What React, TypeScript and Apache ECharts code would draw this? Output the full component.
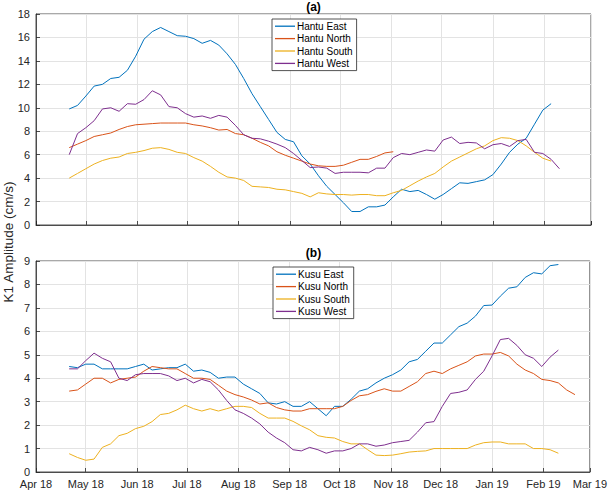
import React, { useEffect, useRef } from "react";
import * as echarts from "echarts";

// Sample dates (every 5 days)
const dates = [
  "2018-04-21", "2018-04-26", "2018-05-01", "2018-05-06", "2018-05-11", "2018-05-16", "2018-05-21", "2018-05-26",
  "2018-05-31", "2018-06-05", "2018-06-10", "2018-06-15", "2018-06-20", "2018-06-25", "2018-06-30", "2018-07-05",
  "2018-07-10", "2018-07-15", "2018-07-20", "2018-07-25", "2018-07-30", "2018-08-04", "2018-08-09", "2018-08-14",
  "2018-08-19", "2018-08-24", "2018-08-29", "2018-09-03", "2018-09-08", "2018-09-13", "2018-09-18", "2018-09-23",
  "2018-09-28", "2018-10-03", "2018-10-08", "2018-10-13", "2018-10-18", "2018-10-23", "2018-10-28", "2018-11-02",
  "2018-11-07", "2018-11-12", "2018-11-17", "2018-11-22", "2018-11-27", "2018-12-02", "2018-12-07", "2018-12-12",
  "2018-12-17", "2018-12-22", "2018-12-27", "2019-01-01", "2019-01-06", "2019-01-11", "2019-01-16", "2019-01-21",
  "2019-01-26", "2019-01-31", "2019-02-05", "2019-02-10", "2019-02-15", "2019-02-20",
];

const hantuEast = [
  9.9, 10.2, 11.0, 11.85, 12.0, 12.5, 12.6, 13.2, 14.4, 15.85, 16.5, 16.85, 16.5, 16.15, 16.1, 15.9,
  15.5, 15.75, 15.35, 14.6, 13.7, 12.5, 11.2, 10.1, 9.0, 7.9, 7.3, 7.1, 5.9, 5.2, 4.2, 3.3,
  2.6, 1.9, 1.15, 1.15, 1.55, 1.55, 1.7, 2.4, 3.05, 2.85, 2.95, 2.6, 2.2, 2.6, 3.1, 3.6,
  3.55, 3.7, 3.85, 4.3, 5.2, 6.2, 6.9, 7.4, 8.6, 9.8, 10.35,
];
const hantuNorth = [
  6.6, 6.9, 7.2, 7.55, 7.7, 7.85, 8.15, 8.4, 8.55, 8.6, 8.65, 8.7, 8.7, 8.7, 8.7, 8.55,
  8.45, 8.3, 8.1, 8.15, 7.8, 7.7, 7.4, 7.05, 6.75, 6.25, 5.95, 5.7, 5.45, 5.2, 5.05, 5.0,
  5.0, 5.1, 5.35, 5.6, 5.6, 5.85, 6.15, 6.25,
];
const hantuSouth = [
  4.0, 4.4, 4.8, 5.2, 5.5, 5.7, 5.8, 6.1, 6.2, 6.35, 6.55, 6.6, 6.45, 6.2, 6.1, 5.75,
  5.45, 5.0, 4.5, 4.1, 4.0, 3.8, 3.3, 3.25, 3.2, 3.05, 3.0, 2.85, 2.7, 2.4, 2.75, 2.65,
  2.6, 2.6, 2.55, 2.6, 2.6, 2.5, 2.5, 2.75, 2.95, 3.35, 3.75, 4.1, 4.4, 4.95, 5.45, 5.8,
  6.15, 6.5, 6.75, 7.2, 7.45, 7.4, 7.2, 6.75, 6.2, 5.7, 5.45,
];
const hantuWest = [
  6.0, 7.8, 8.3, 8.9, 9.9, 10.0, 9.7, 10.35, 10.3, 10.7, 11.45, 11.1, 10.1, 10.0, 9.5, 9.2,
  9.3, 9.1, 9.35, 9.2, 8.5, 7.7, 7.4, 7.35, 7.15, 6.9, 6.6, 6.1, 5.5, 4.9, 4.95, 4.85,
  4.4, 4.5, 4.5, 4.5, 4.45, 4.85, 4.85, 5.75, 6.1, 6.0, 6.2, 6.4, 6.3, 7.25, 7.5, 6.95,
  7.05, 7.0, 6.5, 6.85, 6.95, 6.7, 7.2, 7.3, 6.2, 6.1, 5.6, 4.8,
];

const kusuEast = [
  4.5, 4.45, 4.6, 4.6, 4.4, 4.4, 4.4, 4.4, 4.5, 4.6, 4.35, 4.4, 4.45, 4.45, 4.6, 4.3,
  4.35, 4.25, 4.0, 4.05, 4.05, 3.75, 3.55, 3.35, 2.95, 2.9, 3.0, 2.8, 2.8, 3.0, 2.7, 2.4,
  2.8, 2.8, 3.1, 3.45, 3.55, 3.8, 4.0, 4.15, 4.35, 4.7, 4.8, 5.15, 5.5, 5.5, 5.85, 6.2,
  6.35, 6.65, 7.1, 7.12, 7.5, 7.84, 7.9, 8.3, 8.5, 8.45, 8.8, 8.85,
];
const kusuNorth = [
  3.45, 3.5, 3.75, 4.0, 4.0, 3.8, 3.95, 4.0, 4.05, 4.3, 4.5, 4.45, 4.4, 4.4, 4.2, 4.0,
  4.0, 3.95, 3.7, 3.45, 3.3, 3.2, 3.07, 2.9, 2.95, 2.75, 2.65, 2.6, 2.6, 2.7, 2.7, 2.7,
  2.7, 2.8, 3.05, 3.25, 3.3, 3.44, 3.55, 3.45, 3.45, 3.65, 3.85, 4.2, 4.3, 4.2, 4.4, 4.55,
  4.7, 4.95, 5.03, 5.03, 5.1, 4.95, 4.6, 4.35, 4.2, 3.95, 3.9, 3.8, 3.5, 3.3,
];
const kusuSouth = [
  0.78, 0.62, 0.5, 0.55, 1.05, 1.2, 1.55, 1.65, 1.85, 1.95, 2.15, 2.45, 2.5, 2.65, 2.85, 2.7,
  2.6, 2.7, 2.6, 2.7, 2.8, 2.8, 2.75, 2.5, 2.3, 2.3, 2.3, 2.16, 1.97, 1.8, 1.55, 1.48,
  1.45, 1.3, 1.2, 1.2, 0.95, 0.72, 0.7, 0.72, 0.78, 0.85, 0.88, 0.9, 1.0, 1.0, 1.0, 1.0,
  1.0, 1.15, 1.25, 1.28, 1.28, 1.2, 1.2, 1.2, 1.0, 1.0, 0.95, 0.8,
];
const kusuWest = [
  4.4, 4.4, 4.75, 5.07, 4.85, 4.7, 4.0, 3.9, 4.15, 4.2, 4.2, 4.2, 4.1, 3.9, 4.0, 3.8,
  3.95, 3.85, 3.5, 3.05, 2.65, 2.5, 2.3, 2.05, 1.7, 1.45, 1.25, 0.95, 0.9, 1.05, 0.95, 0.8,
  0.9, 0.9, 1.0, 1.2, 1.2, 1.1, 1.15, 1.25, 1.3, 1.35, 1.7, 2.1, 2.15, 2.8, 3.35, 3.4,
  3.5, 3.95, 4.3, 4.95, 5.65, 5.7, 5.4, 5.0, 4.85, 4.5, 4.9, 5.2,
];

const monthNames = ["Jan", "Feb", "Mar", "Apr", "May", "Jun", "Jul", "Aug", "Sep", "Oct", "Nov", "Dec"];
const topNames = ["Hantu East", "Hantu North", "Hantu South", "Hantu West"];
const bottomNames = ["Kusu East", "Kusu North", "Kusu South", "Kusu West"];
const colors = ["#0072BD", "#D95319", "#EDB120", "#7E2F8E"];

const FONT = "'Liberation Sans', Arial, Helvetica, sans-serif";

function toTs(s: string) {
  const [y, m, d] = s.split("-").map(Number);
  return Date.UTC(y, m - 1, d);
}

function pairs(vals: number[]) {
  return vals.map((v, i) => [toTs(dates[i]), v]);
}

export default function App() {
  const ref = useRef<HTMLDivElement>(null);
  useEffect(() => {
    if (!ref.current) return;
    const chart = echarts.init(ref.current, null, { renderer: "svg" });
    const xMin = Date.UTC(2018, 3, 1);
    const xMax = Date.UTC(2019, 2, 1);
    const axisLineStyle = { color: "#262626", width: 0.8 };
    const gridLine = { show: true, lineStyle: { color: "#e3e3e3", width: 1 } };
    const makeX = (idx: number, showLabel: boolean) => ({
      type: "time",
      gridIndex: idx,
      min: xMin,
      max: xMax,
      splitNumber: 11,
      minInterval: 28 * 86400000,
      maxInterval: 31 * 86400000,
      axisLine: { show: true, lineStyle: axisLineStyle },
      axisTick: { show: true, inside: true, length: 4, lineStyle: axisLineStyle },
      splitLine: gridLine,
      minorTick: { show: false },
      axisLabel: {
        show: showLabel,
        fontSize: 11,
        color: "#262626",
        fontFamily: FONT,
        margin: 6,
        showMinLabel: true,
        showMaxLabel: true,
        hideOverlap: false,
        formatter: (v: number) => {
          const d = new Date(v);
          return monthNames[d.getUTCMonth()] + " " + String(d.getUTCFullYear() % 100).padStart(2, "0");
        },
      },
    });
    const makeY = (idx: number, max: number, interval: number) => ({
      type: "value",
      gridIndex: idx,
      min: 0,
      max,
      interval,
      axisLine: { show: true, lineStyle: axisLineStyle },
      axisTick: { show: true, inside: true, length: 4, lineStyle: axisLineStyle },
      splitLine: gridLine,
      axisLabel: { fontSize: 11, color: "#262626", fontFamily: FONT, margin: 6 },
    });
    const mkSeries = (name: string, vals: number[], ci: number, gi: number) => ({
      name,
      type: "line",
      xAxisIndex: gi,
      yAxisIndex: gi,
      data: pairs(vals),
      symbol: "none",
      showSymbol: false,
      lineStyle: { width: 1, color: colors[ci] },
      itemStyle: { color: colors[ci] },
      z: 3,
    });
    const legendCommon = {
      orient: "vertical",
      icon: "rect",
      itemWidth: 20,
      itemHeight: 1.3,
      itemGap: 0,
      padding: [1, 4, 1, 3],
      borderColor: "#262626",
      borderWidth: 0.8,
      backgroundColor: "#ffffff",
      borderRadius: 0,
      textStyle: { fontSize: 10, lineHeight: 12.4, color: "#000", fontFamily: FONT, padding: [0, 0, 0, -3] },
      selectedMode: false,
    };
    chart.setOption({
      animation: false,
      useUTC: true,
      textStyle: { fontFamily: FONT },
      grid: [
        { left: 36, right: 19, top: 14, height: 211, show: true, borderColor: "#262626", borderWidth: 0.8, backgroundColor: "transparent" },
        { left: 36, right: 19, top: 261, height: 211, show: true, borderColor: "#262626", borderWidth: 0.8, backgroundColor: "transparent" },
      ],
      xAxis: [makeX(0, false), makeX(1, true)],
      yAxis: [makeY(0, 18, 2), makeY(1, 9, 1)],
      legend: [
        { ...legendCommon, data: topNames, left: 272, top: 19 },
        { ...legendCommon, data: bottomNames, left: 273, top: 267 },
      ],
      graphic: [
        { type: "text", x: 313.5, y: 7, style: { text: "(a)", align: "center", verticalAlign: "middle", fontSize: 12, fontWeight: "bold", fontFamily: FONT, fill: "#000" } },
        { type: "text", x: 313.5, y: 253, style: { text: "(b)", align: "center", verticalAlign: "middle", fontSize: 12, fontWeight: "bold", fontFamily: FONT, fill: "#000" } },
        { type: "text", x: 8, y: 242, rotation: Math.PI / 2, style: { text: "K1 Amplitude (cm/s)", align: "center", verticalAlign: "middle", fontSize: 13.5, fontFamily: FONT, fill: "#262626" } },
      ],
      series: [
        mkSeries(topNames[0], hantuEast, 0, 0),
        mkSeries(topNames[1], hantuNorth, 1, 0),
        mkSeries(topNames[2], hantuSouth, 2, 0),
        mkSeries(topNames[3], hantuWest, 3, 0),
        mkSeries(bottomNames[0], kusuEast, 0, 1),
        mkSeries(bottomNames[1], kusuNorth, 1, 1),
        mkSeries(bottomNames[2], kusuSouth, 2, 1),
        mkSeries(bottomNames[3], kusuWest, 3, 1),
      ],
    });
    return () => chart.dispose();
  }, []);
  return <div ref={ref} style={{ position: "fixed", left: 0, top: 0, width: 610, height: 490, background: "#fff" }} />;
}
